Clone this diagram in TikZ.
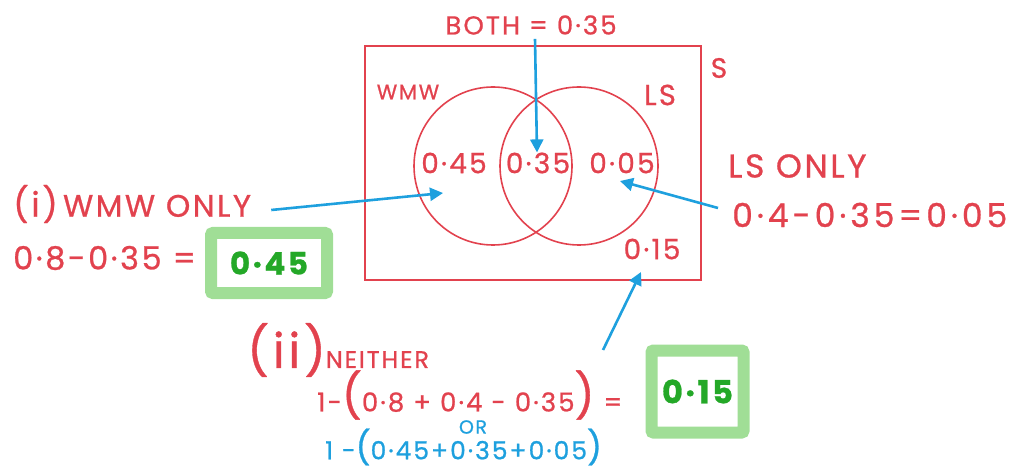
\documentclass[tikz,border=0pt]{standalone}
\usepackage{fontspec}
\setmainfont{Poppins}[LetterSpace=8,FakeBold=0.8]
\usetikzlibrary{arrows.meta}
\definecolor{hred}{RGB}{226,66,78}
\definecolor{hblue}{RGB}{30,160,222}
\definecolor{hgreen}{RGB}{36,168,40}
\definecolor{lgreen}{RGB}{160,222,150}
\newcommand{\fs}[1]{\fontsize{#1}{#1}\selectfont}
\tikzset{
  lab/.style={text=hred, inner sep=0pt, font=\fs{28}},
  blab/.style={text=hblue, inner sep=0pt, font=\fs{26}},
  venn/.style={draw=hred, line width=1.6pt, circle, minimum size=158pt, inner sep=0pt},
  ptr/.style={draw=hblue, line width=2.6pt, -{Triangle[length=13pt,width=13pt]}},
  ansbox/.style={draw=lgreen, line width=12pt, fill=white, rounded corners=2pt, inner sep=0pt,
     text=hgreen, font=\fs{31}\bfseries}
}
\begin{document}
\begin{tikzpicture}[x=1pt,y=-1pt]
\useasboundingbox (0,0) rectangle (1019,470);
% sample space
\draw[hred, line width=1.8pt] (365,46) rectangle (701,280);
\node (W) [venn] at (493,166) {};
\node (L) [venn] at (579,166) {};
\node (sS) [lab] at (719,68) {S};
\node (wmw) [lab, font=\fs{21}] at (408,92) {WMW};
\node (ls) [lab, font=\fs{29}] at (660,95) {LS};
\node (v45) [lab] at (454,163) {0·45};
\node (v35) [lab] at (538,163) {0·35};
\node (v05) [lab] at (622,163) {0·05};
\node (v15) [lab] at (652,249) {0·15};
\node (both) [lab, font=\fs{26}] at (531,25) {BOTH = 0·35};
% (i)
\node (wonly) [lab, anchor=west, font=\fs{31}] at (13,204) {\fs{34}(i)\fs{31}\,WMW ONLY};
\node (weq) [lab, anchor=west, font=\fs{32}] at (13,258) {0·8-0·35 =};
\node (box1) [ansbox, minimum width=116pt, minimum height=60pt] at (269,263) {0·45};
% LS only
\node (lsonly) [lab, anchor=west, font=\fs{33}] at (728,166) {LS ONLY};
\node (lseq) [lab, anchor=west, font=\fs{33}\addfontfeature{LetterSpace=12}] at (732,215) {0·4-0·35=0·05};
% (ii)
\node (neither) [lab, anchor=west] at (247,350) {\fs{48}(ii)\fs{24}NEITHER};
\node (neq) [lab, anchor=west, font=\fs{26}] at (317,395) {1-\fs{44}(\fs{26}0·8 + 0·4 - 0·35\fs{44})\fs{26}\ =};
\node (box2) [ansbox, minimum width=92pt, minimum height=82pt, font=\fs{32}\bfseries] at (697.5,391.5) {0·15};
\node (or) [blab, font=\fs{19}] at (473,427) {OR};
\node (alt) [blab, anchor=west, font=\fs{25}] at (325,447) {1 -\fs{33}(\fs{25}0·45+0·35+0·05\fs{33})};
% pointers
\coordinate (p1) at (443,193);
\coordinate (p2) at (620,181);
\coordinate (p3t) at (718,208);
\coordinate (p4t) at (603,350);
\coordinate (p4) at (641,272);
\draw[ptr] (both.south -| 535,0) ++(0,4) -- (v35.north -| 537,0);
\draw[ptr] (wonly.east) ++(20,6) -- (p1);
\draw[ptr] (p3t) -- (p2);
\draw[ptr] (p4t) -- (p4);
\end{tikzpicture}
\end{document}
